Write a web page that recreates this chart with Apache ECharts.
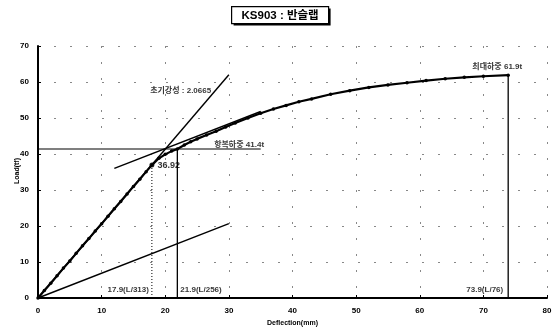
<!DOCTYPE html>
<html>
<head>
<meta charset="utf-8">
<script src="https://cdn.jsdelivr.net/npm/echarts@6/dist/echarts.min.js"></script>
<style>
  html, body { margin: 0; padding: 0; background: #fff; }
  #chart { width: 557px; height: 327px; }
</style>
</head>
<body>
<div id="chart"></div>
<script>
// Load-deflection test record for specimen KS903
var title = 'KS903 : 반슬랩';
var yAxisTitle = 'Load(tf)';
var xAxisTitle = 'Deflection(mm)';
var deflection = [0, 1, 2, 3, 4, 5, 6, 7, 8, 9, 10, 11, 12, 13, 14, 15, 16, 17, 17.9, 19, 20, 21, 21.9, 23, 24, 25, 26.5, 28, 29.5, 31, 33, 35, 37, 39, 41, 43, 46, 49, 52, 55, 58, 61, 64, 67, 70, 73.9];
var load = [0, 2.1, 4.1, 6.2, 8.3, 10.3, 12.4, 14.5, 16.5, 18.6, 20.6, 22.7, 24.8, 26.8, 28.9, 31.0, 33.0, 35.1, 36.92, 38.8, 39.9, 40.8, 41.4, 42.5, 43.4, 44.2, 45.3, 46.3, 47.5, 48.6, 50.0, 51.3, 52.5, 53.5, 54.5, 55.3, 56.6, 57.6, 58.5, 59.2, 59.8, 60.4, 60.9, 61.3, 61.6, 61.9];

var initialStiffness = 2.0665;       // tf/mm
var refSpan = [0, 30];              // extent of the stiffness reference lines
var tangentX = [12, 35];            // tangent line (slope = stiffness / 3)
var tangentY = [36.0, 51.8];
var yieldLoad = 41.4, yieldDefl = 21.9;
var kneeLoad = 36.92, kneeDefl = 17.9;
var maxLoad = 61.9, maxDefl = 73.9;
var yieldLineEnd = 35;

var xTicks = { min: 0, max: 80, step: 10 };
var yTicks = { min: 0, max: 70, step: 10 };

var labelStiffness = '초기강성 : ' + initialStiffness.toFixed(4);
var labelYield = '항복하중 ' + yieldLoad + 't';
var labelMax = '최대하중 ' + maxLoad + 't';
var labelKnee = String(kneeLoad);
var labelKneeDefl = kneeDefl + '(L/313)';
var labelYieldDefl = yieldDefl + '(L/256)';
var labelMaxDefl = maxDefl + '(L/76)';

var FONT = '"Liberation Sans", Arial, "Noto Sans CJK KR", sans-serif';

var curve = deflection.map(function (d, i) { return [d, load[i]]; });

function lineSeries(data, style) {
  return {
    type: 'line', data: data, symbol: 'none', silent: true,
    lineStyle: Object.assign({ color: '#000', width: 1.4 }, style || {}),
    z: 3
  };
}

function textPoint(x, y, text, pos, extra) {
  return {
    type: 'scatter', data: [[x, y]], symbolSize: 0, silent: true, z: 6,
    label: Object.assign({
      show: true, position: pos, formatter: text,
      fontFamily: FONT, fontWeight: 'bold', fontSize: 8, color: '#000'
    }, extra || {})
  };
}

var chart = echarts.init(document.getElementById('chart'));
chart.setOption({
  animation: false,
  backgroundColor: '#fff',
  grid: { left: 38, right: 10, top: 46, bottom: 29, containLabel: false, outerBoundsMode: 'none' },
  graphic: [{
    type: 'group', left: 231, top: 6,
    children: [
      { type: 'rect', shape: { x: 2, y: 2, width: 97, height: 17 }, style: { fill: '#000' } },
      { type: 'rect', shape: { x: 0, y: 0, width: 97, height: 17 }, style: { fill: '#fff', stroke: '#000', lineWidth: 1.2 } },
      { type: 'text', style: { x: 48.5, y: 9, text: title, textAlign: 'center', textVerticalAlign: 'middle',
        font: 'bold 11.5px ' + FONT, fill: '#000' } }
    ]
  }, {
    type: 'text', x: 17, y: 171, rotation: Math.PI / 2,
    style: { x: 0, y: 0, text: yAxisTitle, textAlign: 'center', textVerticalAlign: 'middle',
      font: 'bold 7px ' + FONT, fill: '#000' }
  }],
  xAxis: {
    type: 'value', min: xTicks.min, max: xTicks.max, interval: xTicks.step,
    name: xAxisTitle, nameLocation: 'middle', nameGap: 20,
    nameTextStyle: { fontFamily: FONT, fontWeight: 'bold', fontSize: 7, color: '#000' },
    axisLine: { lineStyle: { color: '#000', width: 2 } },
    axisTick: { show: true, inside: true, length: 3, lineStyle: { color: '#000' } },
    axisLabel: { fontFamily: FONT, fontWeight: 'bold', fontSize: 8, color: '#000', margin: 9 },
    splitLine: { show: true, lineStyle: { color: '#888', type: [2, 14], width: 1 } }
  },
  yAxis: {
    type: 'value', min: yTicks.min, max: yTicks.max, interval: yTicks.step,
    axisLine: { lineStyle: { color: '#000', width: 2 } },
    axisTick: { show: true, inside: true, length: 3, lineStyle: { color: '#000' } },
    axisLabel: { fontFamily: FONT, fontWeight: 'bold', fontSize: 8, color: '#000', margin: 9 },
    splitLine: { show: true, lineStyle: { color: '#888', type: [2, 14], width: 1 } }
  },
  series: [
    // measured curve
    {
      type: 'line', data: curve, symbol: 'circle', symbolSize: 3.5, silent: true, z: 4,
      itemStyle: { color: '#000' }, lineStyle: { color: '#000', width: 2.2 }
    },
    // initial stiffness line and one-third stiffness line
    lineSeries([[refSpan[0], initialStiffness * refSpan[0]], [refSpan[1], initialStiffness * refSpan[1]]]),
    lineSeries([[refSpan[0], initialStiffness / 3 * refSpan[0]], [refSpan[1], initialStiffness / 3 * refSpan[1]]]),
    // tangent line parallel to the one-third line
    lineSeries([[tangentX[0], tangentY[0]], [tangentX[1], tangentY[1]]]),
    // yield load level
    lineSeries([[0, yieldLoad], [yieldLineEnd, yieldLoad]], { width: 1.1 }),
    // deflection markers
    lineSeries([[kneeDefl, 0], [kneeDefl, kneeLoad]], { type: [1, 2], width: 1 }),
    lineSeries([[yieldDefl, 0], [yieldDefl, yieldLoad]], { width: 1.3 }),
    lineSeries([[maxDefl, 0], [maxDefl, maxLoad]], { width: 1.3 }),
    // knee point marker
    {
      type: 'scatter', data: [[kneeDefl, kneeLoad]], symbol: 'circle', symbolSize: 5, silent: true, z: 5,
      itemStyle: { color: '#000' },
      label: { show: true, position: 'right', distance: 3, formatter: labelKnee,
        fontFamily: FONT, fontWeight: 'bold', fontSize: 9, color: '#000' }
    },
    textPoint(refSpan[1] - 2, initialStiffness * refSpan[1] - 4.5, labelStiffness, 'left'),
    textPoint(yieldDefl + 5, yieldLoad + 1.2, labelYield, 'right'),
    textPoint(maxDefl, maxLoad + 2.2, labelMax, 'left', { distance: -14 }),
    textPoint(kneeDefl, 2.2, labelKneeDefl, 'left', { distance: 3 }),
    textPoint(yieldDefl, 2.2, labelYieldDefl, 'right', { distance: 3 }),
    textPoint(maxDefl, 2.2, labelMaxDefl, 'left', { distance: 5 })
  ]
});
</script>
</body>
</html>
